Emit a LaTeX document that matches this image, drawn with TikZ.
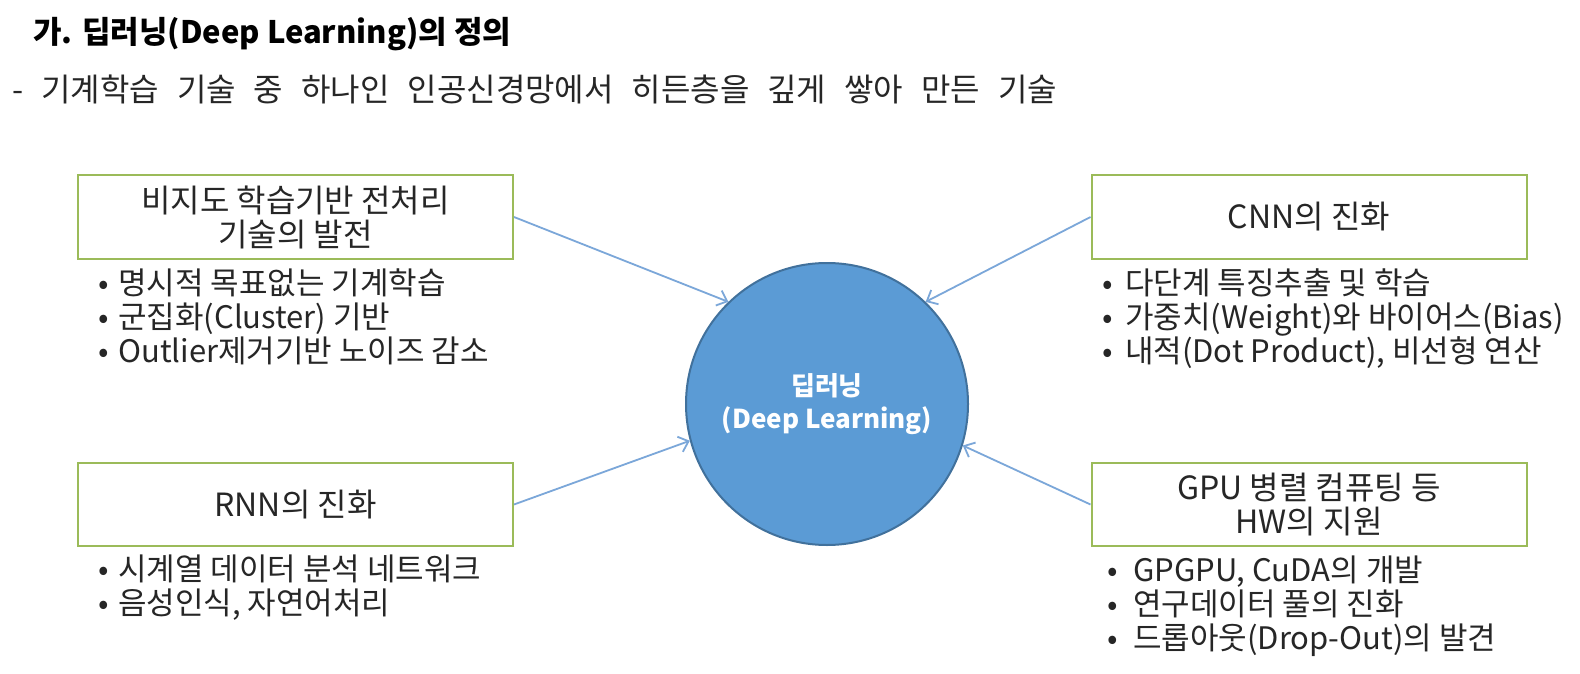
\documentclass[tikz,border=0pt]{standalone}
\usepackage{fontspec}
\setmainfont{Noto Sans CJK KR}
\usepackage{tikz}
\usetikzlibrary{positioning,arrows.meta,calc}
\definecolor{boxgreen}{HTML}{9BBB59}
\definecolor{circfill}{HTML}{5B9BD5}
\definecolor{circline}{HTML}{41719C}
\definecolor{arrowblue}{HTML}{7BA7D9}
\definecolor{textdark}{HTML}{262626}
\newcommand{\bul}[1][20pt]{\makebox[#1][l]{•}}

\begin{document}
\begin{tikzpicture}[x=1pt, y=-1pt,
    topicbox/.style={draw=boxgreen, line width=2pt, minimum width=435pt,
        minimum height=84pt, align=center, inner sep=0pt, text=textdark,
        font=\fontsize{32}{34}\selectfont},
    bulletlist/.style={anchor=north west, align=left, inner sep=0pt,
        text=textdark, font=\fontsize{31}{34}\selectfont},
    feed/.style={-{Straight Barb[length=9pt,width=16pt]}, draw=arrowblue,
        line width=1.8pt}]
% Page frame
\fill[white] (0,0) rectangle (1580,674);
\useasboundingbox (0,0) rectangle (1580,674);

% Heading lines
\node[anchor=west, inner sep=0pt, text=black,
    font=\fontsize{31}{33}\selectfont\bfseries] (title) at (33,34)
    {가. 딥러닝(Deep Learning)의 정의};
\node[anchor=west, inner sep=0pt, text=textdark,
    font=\fontsize{32}{34}\selectfont] (subtitle) at (12,89)
    {\spaceskip=18pt\relax - 기계학습 기술 중 하나인 인공신경망에서 히든층을 깊게 쌓아 만든 기술};

% Central circle
\node[circle, fill=circfill, draw=circline, line width=2pt, minimum size=282pt,
    inner sep=0pt, text=white, align=center,
    font=\fontsize{26}{33}\selectfont\bfseries] (deep) at (827,404)
    {딥러닝\\(Deep Learning)};

% Four topic boxes
\node[topicbox] (unsup) at (295.5,217) {비지도 학습기반 전처리\\기술의 발전};
\node[topicbox] (cnn) at (1309,217) {CNN의 진화};
\node[topicbox, minimum height=83pt] (rnn) at (295.5,504.5) {RNN의 진화};
\node[topicbox, minimum height=83pt] (gpu) at (1309,504.5) {GPU 병렬 컴퓨팅 등\\HW의 지원};

% Bullet notes under each box
\node[bulletlist] (unsupnotes) at (98,269)
    {\bul 명시적 목표없는 기계학습\\ \bul 군집화(Cluster) 기반\\ \bul Outlier제거기반 노이즈 감소};
\node[bulletlist] (cnnnotes) at (1102,269)
    {\bul[16pt] 다단계 특징추출 및 학습\\ \bul[16pt] 가중치(Weight)와 바이어스(Bias)\\ \bul[16pt] 내적(Dot Product), 비선형 연산};
\node[bulletlist] (rnnnotes) at (98,555)
    {\bul 시계열 데이터 분석 네트워크\\ \bul 음성인식, 자연어처리};
\node[bulletlist] (gpunotes) at (1107,556)
    {\bul[19pt] GPGPU, CuDA의 개발\\ \bul[19pt] 연구데이터 풀의 진화\\ \bul[19pt] 드롭아웃(Drop-Out)의 발견};

% Arrows into the circle
\foreach \src/\ang in {unsup.east/134, cnn.west/46, rnn.east/195, gpu.west/343.5} {
    \draw[feed] (\src) -- (deep.\ang);
}
\end{tikzpicture}
\end{document}
